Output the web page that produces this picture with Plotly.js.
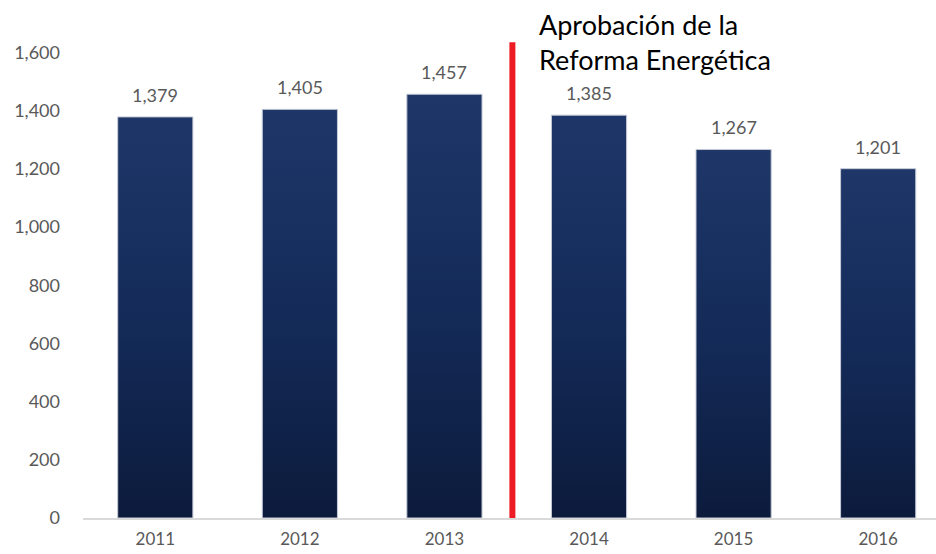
<!DOCTYPE html>
<html><head><meta charset="utf-8">
<script src="https://cdn.plot.ly/plotly-3.0.1.min.js"></script>
<style>body{margin:0;background:#fff}#chart{width:936px;height:554px}</style>
</head><body><div id="chart"></div>
<script>
const years = ['2011','2012','2013','2014','2015','2016'];
const values = [1379, 1405, 1457, 1385, 1267, 1201];
const yTicks = [0, 200, 400, 600, 800, 1000, 1200, 1400, 1600];
const noteText = 'Aprobación de la<br>Reforma Energética';

const FONT = 'Lato, "Open Sans", sans-serif';
const fmt = v => v.toLocaleString('en-US');
const trace = {
  type: 'bar', x: years, y: values, width: 0.52,
  marker: {color: '#162c5a', line: {color: '#c5cad6', width: 1}},
  hoverinfo: 'none'
};
const valueLabels = years.map((yr, i) => ({
  xref: 'x', yref: 'y', x: i, y: values[i], text: fmt(values[i]),
  showarrow: false, yanchor: 'bottom', yshift: 9,
  font: {family: FONT, size: 18, color: '#595959'}
}));
const layout = {
  width: 936, height: 554,
  margin: {l: 83, r: 0, t: 9, b: 36},
  paper_bgcolor: '#fff', plot_bgcolor: '#fff',
  showlegend: false,
  font: {family: FONT, color: '#595959', size: 18},
  xaxis: {type: 'category', range: [-0.5, 5.4], showgrid: false, zeroline: false,
          showline: true, linecolor: '#d9d9d9', linewidth: 2, ticks: '',
          ticklabelstandoff: 5, tickfont: {family: FONT, size: 17, color: '#595959'}},
  yaxis: {range: [0, 1750], tickvals: yTicks, ticktext: yTicks.map(fmt),
          showgrid: false, zeroline: false, showline: false, ticks: '',
          ticklabelstandoff: 22, tickfont: {family: FONT, size: 18, color: '#595959'}},
  shapes: [{type: 'line', xref: 'x', yref: 'y', x0: 2.47, x1: 2.47, y0: -4, y1: 1636,
            line: {color: '#ed1c24', width: 6}}],
  annotations: [{xref: 'x', yref: 'paper', x: 2.64, y: 1.005, xanchor: 'left', yanchor: 'top',
                 text: noteText, showarrow: false, align: 'left',
                 font: {family: FONT, size: 27, color: '#000'}}].concat(valueLabels)
};
Plotly.newPlot('chart', [trace], layout, {displayModeBar: false, staticPlot: true}).then(gd => {
  const svg = gd.querySelector('svg.main-svg');
  const ns = 'http://www.w3.org/2000/svg';
  let defs = svg.querySelector('defs');
  const g = document.createElementNS(ns, 'linearGradient');
  g.setAttribute('id', 'barGrad'); g.setAttribute('x1', '0'); g.setAttribute('y1', '0');
  g.setAttribute('x2', '0'); g.setAttribute('y2', '1');
  [['0', '#1e3768'], ['0.5', '#142b59'], ['1', '#0c1b3c']].forEach(([o, c]) => {
    const s = document.createElementNS(ns, 'stop');
    s.setAttribute('offset', o); s.setAttribute('stop-color', c); g.appendChild(s);
  });
  defs.appendChild(g);
  gd.querySelectorAll('.bars .point path').forEach(p => { p.style.fill = 'url(#barGrad)'; });
});
</script></body></html>
